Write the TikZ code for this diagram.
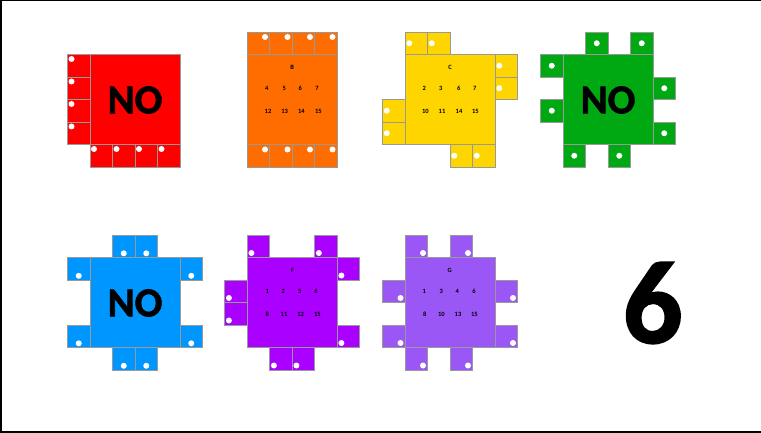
\documentclass[tikz,border=0pt]{standalone}
\usepackage{fontspec}
\setmainfont{Carlito}
\newfontfamily\heavyfont{Carlito}[UprightFont={* Bold}, UprightFeatures={FakeBold=1.5}]
\newfontfamily\smallfont{Carlito}[UprightFont={* Bold}]
\definecolor{cred}{HTML}{FF0000}
\definecolor{corange}{HTML}{FF6D00}
\definecolor{cyellow}{HTML}{FFD500}
\definecolor{cgreen}{HTML}{00A812}
\definecolor{cblue}{HTML}{0096FF}
\definecolor{cviolet}{HTML}{AA00FF}
\definecolor{clilac}{HTML}{9A57F5}
\newcommand{\tabcell}[5]{%
  \filldraw[fill=#3, cellline] (#1,#2) rectangle ++(22.5,22.5);
  \fill[white] (#1+#4,#2+#5) circle (3pt);}
\newcommand{\mainsq}[3]{%
  \filldraw[fill=#3, cellline] (#1,#2) rectangle ++(90,90);}
\begin{document}
\begin{tikzpicture}[x=1pt,y=-1pt,
  cellline/.style={draw=black!40, line width=0.6pt},
  bignum/.style={font=\heavyfont\fontsize{41}{41}\selectfont, inner sep=0pt},
  smalltxt/.style={font=\smallfont\fontsize{6.5}{7}\selectfont, text=black, inner sep=0pt},
  sixtxt/.style={font=\heavyfont\fontsize{118}{118}\selectfont, inner sep=0pt}]
\useasboundingbox (0,0) rectangle (761,433);
\fill[white] (0,0) rectangle (761,433);
\draw[line width=1.5pt] (0.75,0) -- (0.75,431.75) -- (761,431.75);
\draw[line width=1.2pt] (0,0.6) -- (761,0.6);

% ---------- Red ----------
\foreach \r in {0,...,3} {\tabcell{67.5}{54.5+22.5*\r}{cred}{4}{4.5}}
\foreach \c in {0,...,3} {\tabcell{90+22.5*\c}{144.5}{cred}{4}{4.5}}
\mainsq{90}{54.5}{cred}
\node[bignum] (nored) at (135,100) {NO};

% ---------- Orange B ----------
\foreach \c in {0,...,3} {\tabcell{247+22.5*\c}{32}{corange}{18}{5}}
\foreach \c in {0,...,3} {\tabcell{247+22.5*\c}{144.5}{corange}{18}{5}}
\mainsq{247}{54.5}{corange}
\node[smalltxt] (bB) at (292.3,67.3) {B};
\node[smalltxt] (b4) at (266.7,88.3) {4};
\node[smalltxt] (b5) at (284.3,88.3) {5};
\node[smalltxt] (b6) at (300.3,88.3) {6};
\node[smalltxt] (b7) at (317,88.3) {7};
\node[smalltxt] (b12) at (268,111.3) {12};
\node[smalltxt] (b13) at (284.7,111.3) {13};
\node[smalltxt] (b14) at (301.3,111.3) {14};
\node[smalltxt] (b15) at (318.3,111.3) {15};

% ---------- Yellow C ----------
\foreach \c in {0,1} {\tabcell{405+22.5*\c}{32}{cyellow}{4.3}{11.25}}
\foreach \r in {0,1} {\tabcell{495}{54.5+22.5*\r}{cyellow}{4.3}{11.25}}
\foreach \r in {2,3} {\tabcell{382.5}{54.5+22.5*\r}{cyellow}{4.3}{11.25}}
\foreach \c in {2,3} {\tabcell{405+22.5*\c}{144.5}{cyellow}{4.3}{11.25}}
\mainsq{405}{54.5}{cyellow}
\node[smalltxt] (cC) at (450,67.3) {C};
\node[smalltxt] (c2) at (424.3,88.3) {2};
\node[smalltxt] (c3) at (440.7,88.3) {3};
\node[smalltxt] (c6) at (458.7,88.3) {6};
\node[smalltxt] (c7) at (474.7,88.3) {7};
\node[smalltxt] (c10) at (425.3,111.3) {10};
\node[smalltxt] (c11) at (442,111.3) {11};
\node[smalltxt] (c14) at (459,111.3) {14};
\node[smalltxt] (c15) at (475.3,111.3) {15};

% ---------- Green ----------
\foreach \c in {1,3} {\tabcell{563+22.5*\c}{32}{cgreen}{11.25}{11.25}}
\foreach \r in {0,2} {\tabcell{540.5}{54.5+22.5*\r}{cgreen}{11.25}{11.25}}
\foreach \r in {1,3} {\tabcell{653}{54.5+22.5*\r}{cgreen}{11.25}{11.25}}
\foreach \c in {0,2} {\tabcell{563+22.5*\c}{144.5}{cgreen}{11.25}{11.25}}
\mainsq{563}{54.5}{cgreen}
\node[bignum] (nogreen) at (608,100) {NO};

% ---------- Blue ----------
\foreach \c in {1,2} {\tabcell{90+22.5*\c}{235}{cblue}{11.25}{18.3}}
\foreach \r in {0,3} {\tabcell{67.5}{257.5+22.5*\r}{cblue}{11.25}{18.3}}
\foreach \r in {0,3} {\tabcell{180}{257.5+22.5*\r}{cblue}{11.25}{18.3}}
\foreach \c in {1,2} {\tabcell{90+22.5*\c}{347.5}{cblue}{11.25}{18.3}}
\mainsq{90}{257.5}{cblue}
\node[bignum] (noblue) at (135,303) {NO};

% ---------- Violet F ----------
\foreach \c in {0,3} {\tabcell{247+22.5*\c}{235}{cviolet}{4.4}{18}}
\foreach \r in {0,3} {\tabcell{337}{257.5+22.5*\r}{cviolet}{4.4}{18}}
\foreach \r in {1,2} {\tabcell{224.5}{257.5+22.5*\r}{cviolet}{4.4}{18}}
\foreach \c in {1,2} {\tabcell{247+22.5*\c}{347.5}{cviolet}{4.4}{18}}
\mainsq{247}{257.5}{cviolet}
\node[smalltxt] (fF) at (292.7,270) {F};
\node[smalltxt] (f1) at (267.3,291) {1};
\node[smalltxt] (f2) at (283.3,291) {2};
\node[smalltxt] (f5) at (299.7,291) {5};
\node[smalltxt] (f6) at (316,291) {6};
\node[smalltxt] (f8) at (267.3,314) {8};
\node[smalltxt] (f11) at (284,314) {11};
\node[smalltxt] (f12) at (300.7,314) {12};
\node[smalltxt] (f15) at (317.3,314) {15};

% ---------- Lilac G ----------
\foreach \c in {0,2} {\tabcell{405+22.5*\c}{235}{clilac}{18}{18}}
\foreach \r in {1,3} {\tabcell{382.5}{257.5+22.5*\r}{clilac}{18}{18}}
\foreach \r in {1,3} {\tabcell{495}{257.5+22.5*\r}{clilac}{18}{18}}
\foreach \c in {0,2} {\tabcell{405+22.5*\c}{347.5}{clilac}{18}{18}}
\mainsq{405}{257.5}{clilac}
\node[smalltxt] (gG) at (449.7,270) {G};
\node[smalltxt] (g1) at (424.3,291) {1};
\node[smalltxt] (g3) at (441.3,291) {3};
\node[smalltxt] (g4) at (457.3,291) {4};
\node[smalltxt] (g6) at (474,291) {6};
\node[smalltxt] (g8) at (424.7,314) {8};
\node[smalltxt] (g10) at (441.3,314) {10};
\node[smalltxt] (g13) at (458,314) {13};
\node[smalltxt] (g15) at (474.3,314) {15};

% ---------- Answer ----------
\node[sixtxt] (six) at (652.7,303) {6};
\end{tikzpicture}
\end{document}
